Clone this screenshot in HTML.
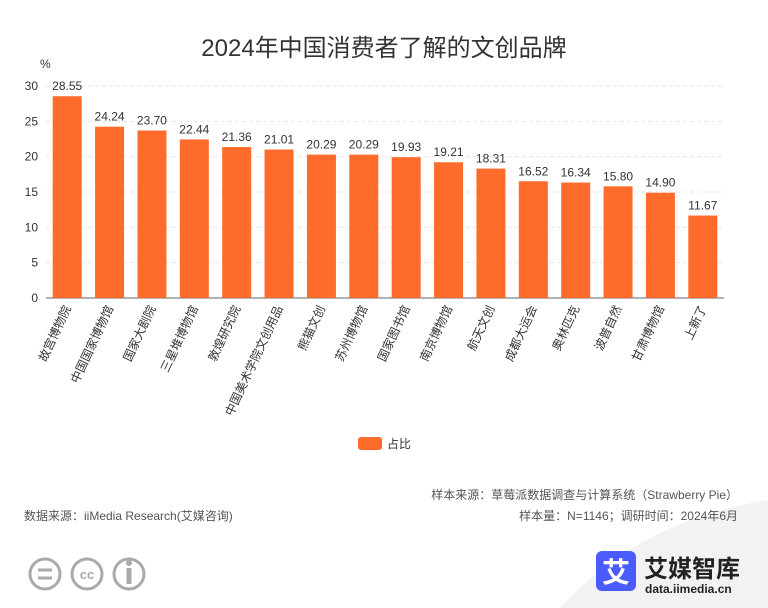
<!DOCTYPE html>
<html><head><meta charset="utf-8"><style>
body{margin:0;background:#fff;font-family:"Liberation Sans","Noto Sans CJK SC",sans-serif;}
#wrap{position:relative;width:768px;height:608px;overflow:hidden;}
</style></head><body>
<div id="wrap">
<svg id="chart" width="768" height="608">
<path d="M560 608 Q640 520 768 500 L768 608 Z" fill="#f2f2f2"/>
<text x="384" y="56" text-anchor="middle" font-size="24" fill="#333">2024年中国消费者了解的文创品牌</text>
<text x="40" y="68" font-size="12" fill="#333">%</text>
<g id="grid"></g><g id="bars"></g><g id="labels"></g>
<rect x="358" y="437" width="24" height="13" rx="3" fill="#ff6b2b"/>
<text x="387" y="448" font-size="12" fill="#333">占比</text>
<text x="738" y="499" text-anchor="end" font-size="12" fill="#555">样本来源：草莓派数据调查与计算系统（Strawberry Pie）</text>
<text x="738" y="520" text-anchor="end" font-size="12" fill="#555">样本量：N=1146；调研时间：2024年6月</text>
<text x="24" y="520" font-size="12" fill="#555">数据来源：iiMedia Research(艾媒咨询)</text>
<g fill="none" stroke="#aaa" stroke-width="3">
<circle cx="45" cy="574" r="15"/><circle cx="87" cy="574" r="15"/><circle cx="129" cy="574" r="15"/>
<line x1="38" y1="570" x2="52" y2="570"/><line x1="38" y1="578" x2="52" y2="578"/>
<line x1="129" y1="568" x2="129" y2="584" stroke-width="5"/>
</g>
<circle cx="129" cy="563" r="3" fill="#aaa"/>
<text x="87" y="579" text-anchor="middle" font-size="13" font-weight="bold" fill="#aaa">cc</text>
<rect x="596" y="551" width="40" height="40" rx="6" fill="#4a5bff"/>
<text x="616" y="582" text-anchor="middle" font-size="28" font-weight="bold" fill="#fff">艾</text>
<text x="644" y="577" font-size="24" font-weight="bold" fill="#222">艾媒智库</text>
<text x="645" y="593" font-size="12" font-weight="bold" fill="#222">data.iimedia.cn</text>
</svg>
</div>
<script>
const categories=["故宫博物院","中国国家博物馆","国家大剧院","三星堆博物馆","敦煌研究院","中国美术学院文创用品","熊猫文创","苏州博物馆","国家图书馆","南京博物馆","航天文创","成都大运会","奥林匹克","波普自然","甘肃博物馆","上新了"];
const values=[28.55,24.24,23.70,22.44,21.36,21.01,20.29,20.29,19.93,19.21,18.31,16.52,16.34,15.80,14.90,11.67];
const ticks=[0,5,10,15,20,25,30];
const NS="http://www.w3.org/2000/svg";
const x0=46,x1=724,yBase=298,yTop=86,yMax=30;
const y=v=>yBase-(yBase-yTop)*v/yMax;
const step=(x1-x0)/categories.length, bw=29;
const xc=i=>x0+step*(i+0.5);
function mk(t,a,p){const e=document.createElementNS(NS,t);for(const k in a)e.setAttribute(k,a[k]);p.appendChild(e);return e;}
const grid=document.getElementById('grid'),bars=document.getElementById('bars'),labels=document.getElementById('labels');
ticks.forEach(t=>{
 if(t>0){const l=mk('line',{x1:x0,x2:x1,y1:y(t),y2:y(t),stroke:'#e6e6e6','stroke-dasharray':'4,3'},grid);
 
 }
 const tx=mk('text',{x:38,y:y(t)+4,'text-anchor':'end','font-size':12,fill:'#333'},grid);tx.textContent=t;
 
 
});
const ax=mk('line',{x1:x0,x2:x1,y1:yBase,y2:yBase,stroke:'#666'},grid);


values.forEach((v,i)=>{
 const r=mk('rect',{x:xc(i)-bw/2,y:y(v),width:bw,height:yBase-y(v),fill:'#ff6b2b'},bars);
 
 
 const t=mk('text',{x:xc(i),y:y(v)-6,'text-anchor':'middle','font-size':12,fill:'#333'},labels);t.textContent=v.toFixed(2);
 
 
 const c=mk('text',{x:xc(i)+4,y:yBase+10,'text-anchor':'end','font-size':12,fill:'#333',transform:`rotate(-65 ${xc(i)+4} ${yBase+10})`},labels);c.textContent=categories[i];
 
 
});
</script>
</body></html>
